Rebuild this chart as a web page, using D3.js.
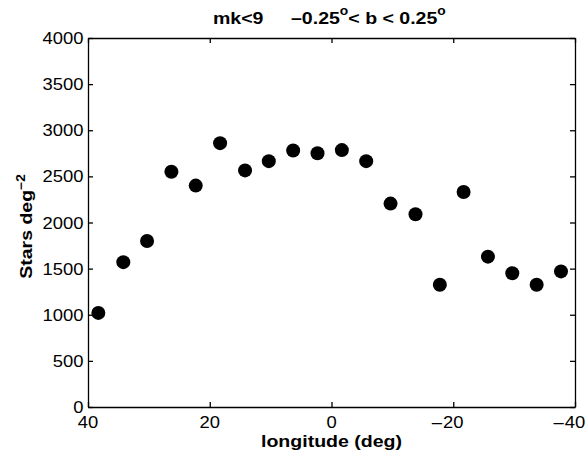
<!DOCTYPE html>
<html lang="en">
    <head>
        <meta charset="utf-8">
        <title>stars per square degree</title>
        <script type="text/javascript" src="https://cdnjs.cloudflare.com/ajax/libs/d3/7.8.5/d3.min.js"></script>
        <style type="text/css">
        body { margin: 0; background: #fff; }
        text { font-family: "Liberation Sans", Arial, Helvetica, sans-serif; fill: #000; }
        .axis path, .axis line { stroke: #000; stroke-width: 1.3; }
        </style>
    </head>
    <body>
        <div id="drawing"></div>
        <script type="text/javascript">
            // longitude of each bin (deg) and star density (stars deg^-2)
            var longitude = [38.3, 34.2, 30.3, 26.3, 22.3, 18.3, 14.2, 10.3, 6.3, 2.3,
                             -1.7, -5.7, -9.7, -13.8, -17.8, -21.7, -25.7, -29.7, -33.7, -37.7];
            var density = [1020, 1570, 1800, 2550, 2400, 2860, 2565, 2665, 2780, 2750,
                           2785, 2665, 2205, 2090, 1325, 2330, 1630, 1450, 1325, 1470];

            var xTicks = [40, 20, 0, -20, -40];
            var yTicks = [0, 500, 1000, 1500, 2000, 2500, 3000, 3500, 4000];

            var width = 587, height = 458;
            // plot box edges (window.top is taken, so prefix them)
            var boxLeft = 88, boxRight = 575, boxTop = 38, boxBottom = 407;
            var SX = 1.15; // the original fonts are a bit wide

            var svg = d3.select("#drawing")
                .append("svg")
                .attr("width", width)
                .attr("height", height);

            var x = d3.scaleLinear().domain([40, -40]).range([boxLeft, boxRight]);
            var y = d3.scaleLinear().domain([0, 4000]).range([boxBottom, boxTop]);

            function label(parent, px, py, str, size, anchor, weight) {
                return parent.append("text")
                    .attr("transform", "translate(" + px + "," + py + ") scale(" + SX + ",1)")
                    .attr("text-anchor", anchor)
                    .style("font-size", size + "px")
                    .style("font-weight", weight || "normal")
                    .text(str);
            }

            // box with inward ticks on all four sides
            svg.append("g").attr("class", "axis")
                .attr("transform", "translate(0," + boxBottom + ")")
                .call(d3.axisBottom(x).tickValues(xTicks).tickSizeInner(-5).tickSizeOuter(0).tickFormat(""));
            svg.append("g").attr("class", "axis")
                .attr("transform", "translate(0," + boxTop + ")")
                .call(d3.axisTop(x).tickValues(xTicks).tickSizeInner(-5).tickSizeOuter(0).tickFormat(""));
            svg.append("g").attr("class", "axis")
                .attr("transform", "translate(" + boxLeft + ",0)")
                .call(d3.axisLeft(y).tickValues(yTicks).tickSizeInner(-5).tickSizeOuter(0).tickFormat(""));
            svg.append("g").attr("class", "axis")
                .attr("transform", "translate(" + boxRight + ",0)")
                .call(d3.axisRight(y).tickValues(yTicks).tickSizeInner(-5).tickSizeOuter(0).tickFormat(""));

            // tick labels (minus hangs to the left of the centred digits, like matlab)
            var labels = svg.append("g");
            xTicks.forEach(function(v) {
                var t = label(labels, x(v), boxBottom + 21, Math.abs(v), 16, "middle");
                if (v < 0) {
                    var w = t.node().getComputedTextLength() * SX;
                    label(labels, x(v) - w / 2 - 1, boxBottom + 21, "\u2013", 16, "end");
                }
            });
            yTicks.forEach(function(v) {
                label(labels, boxLeft - 4.5, y(v) + 6, v, 16, "end");
            });

            // axis titles
            label(svg, (boxLeft + boxRight) / 2, 447, "longitude (deg)", 17, "middle", "bold");

            var yl = svg.append("text")
                .attr("transform", "translate(32," + ((boxTop + boxBottom) / 2 + 4) + ") rotate(-90) scale(" + SX + ",1)")
                .attr("text-anchor", "middle")
                .style("font-size", "17px")
                .style("font-weight", "bold");
            yl.append("tspan").text("Stars deg");
            yl.append("tspan").attr("dy", -7).style("font-size", "12px").text("\u22122");

            // title
            label(svg, 213, 24, "mk<9", 17, "start", "bold");
            var tt = svg.append("text")
                .attr("transform", "translate(291,24) scale(" + SX + ",1)")
                .style("font-size", "17px")
                .style("font-weight", "bold");
            tt.append("tspan").text("\u20130.25");
            tt.append("tspan").attr("dy", -9).style("font-size", "12px").text("o");
            tt.append("tspan").attr("dy", 9).text("< b < 0.25");
            tt.append("tspan").attr("dy", -9).style("font-size", "12px").text("o");

            // data points
            svg.append("g").selectAll("circle")
                .data(d3.zip(longitude, density))
                .enter().append("circle")
                .attr("cx", function(d) { return x(d[0]); })
                .attr("cy", function(d) { return y(d[1]); })
                .attr("r", 7)
                .style("fill", "#000");
        </script>
    </body>
</html>
